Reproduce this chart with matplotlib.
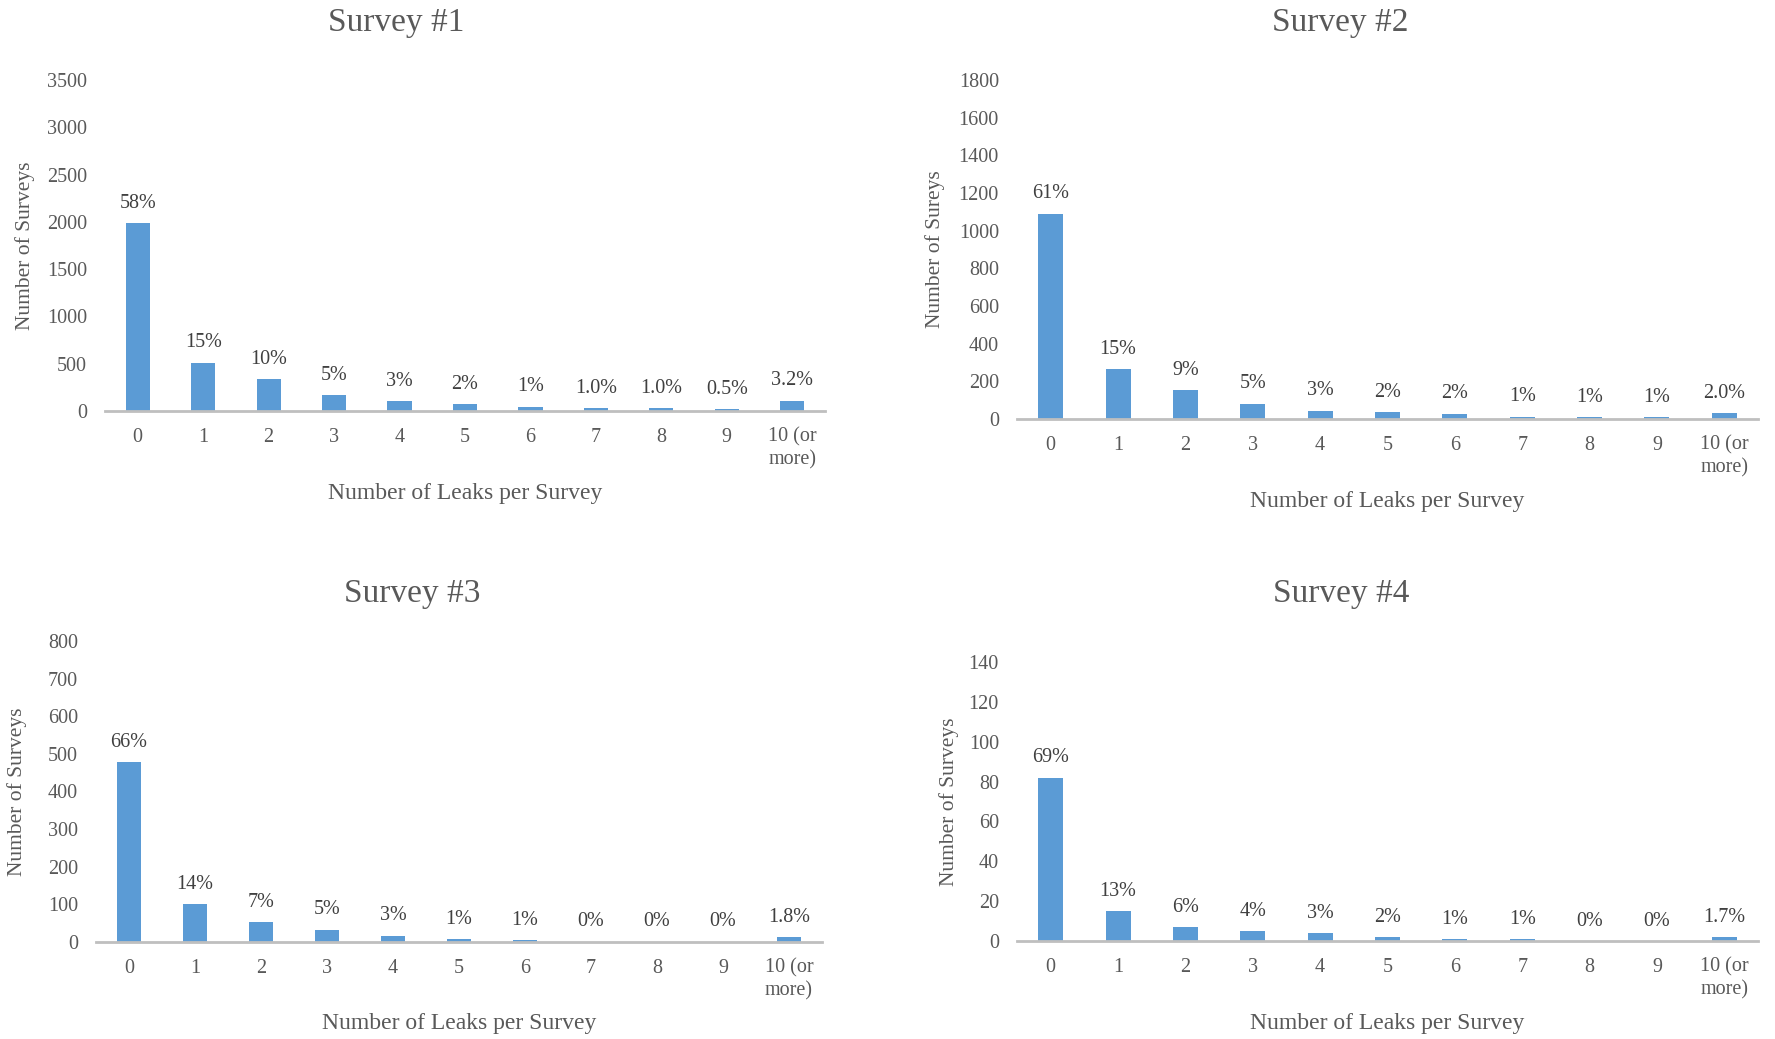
import numpy as np
import matplotlib
matplotlib.use("Agg")
import matplotlib.pyplot as plt

plt.rcParams['font.family'] = ['Liberation Serif', 'DejaVu Serif']

# data
leaks = ["0", "1", "2", "3", "4", "5", "6", "7", "8", "9", "10 (or\nmore)"]

survey1_counts = [1985, 510, 335, 165, 105, 70, 45, 33, 33, 18, 109]
survey1_pcts = ["58%", "15%", "10%", "5%", "3%", "2%", "1%", "1.0%", "1.0%", "0.5%", "3.2%"]

survey2_counts = [1090, 265, 155, 82, 45, 38, 28, 13, 8, 8, 33]
survey2_pcts = ["61%", "15%", "9%", "5%", "3%", "2%", "2%", "1%", "1%", "1%", "2.0%"]

survey3_counts = [478, 100, 52, 33, 17, 7, 4, 1, 1, 1, 12]
survey3_pcts = ["66%", "14%", "7%", "5%", "3%", "1%", "1%", "0%", "0%", "0%", "1.8%"]

survey4_counts = [82, 15, 7, 5, 4, 2, 1, 1, 0, 0, 2]
survey4_pcts = ["69%", "13%", "6%", "4%", "3%", "2%", "1%", "1%", "0%", "0%", "1.7%"]

BAR_COLOR = "#5B9BD5"
TEXT_COLOR = "#595959"
AXIS_COLOR = "#BFBFBF"

W, H = 1775, 1039


def draw_panel(rect, counts, pcts, ymax, ystep, ylabel, title, title_xy,
               ylabel_x, xlabel_y):
    ax = fig.add_axes(rect)
    x = np.arange(len(leaks))
    ax.bar(x, counts, width=0.37, color=BAR_COLOR, zorder=2)
    for xi, c, p in zip(x, counts, pcts):
        ax.annotate(p, (xi, c), xytext=(0, 11), textcoords="offset points",
                    ha="center", va="baseline", fontsize=14.5,
                    color="#404040")
    ax.set_xlim(-0.5, len(leaks) - 0.5)
    ax.set_ylim(0, ymax)
    ax.set_yticks(np.arange(0, ymax + 1, ystep))
    ax.set_xticks(x)
    ax.set_xticklabels(leaks)
    ax.tick_params(axis="both", length=0, labelsize=14.5,
                   labelcolor=TEXT_COLOR)
    ax.tick_params(axis="y", pad=13)
    ax.tick_params(axis="x", pad=12)
    for s in ["top", "right", "left"]:
        ax.spines[s].set_visible(False)
    ax.spines["bottom"].set_color(AXIS_COLOR)
    ax.spines["bottom"].set_linewidth(2)
    ax.spines["bottom"].set_zorder(3)
    ax.patch.set_alpha(0)

    # labels placed in figure pixels like the original layout
    cx = (rect[0] + rect[2] / 2)
    fig.text(cx, 1 - xlabel_y / H, "Number of Leaks per Survey",
             ha="center", va="center", fontsize=17, color=TEXT_COLOR)
    cy = rect[1] + rect[3] / 2
    fig.text(ylabel_x / W, cy, ylabel, rotation=90, ha="center",
             va="center", fontsize=15.5, color=TEXT_COLOR)
    fig.text(title_xy[0] / W, 1 - title_xy[1] / H, title, ha="center",
             va="center", fontsize=24, color=TEXT_COLOR)
    return ax


fig = plt.figure(figsize=(W / 100, H / 100), dpi=100)

draw_panel([105 / W, 1 - 411 / H, 720 / W, 331 / H],
           survey1_counts, survey1_pcts, 3500, 500,
           "Number of Surveys", "Survey #1", (396, 23), 25, 494)
draw_panel([1017 / W, 1 - 419 / H, 741 / W, 339 / H],
           survey2_counts, survey2_pcts, 1800, 200,
           "Number of Sureys", "Survey #2", (1340, 23), 935, 501)
draw_panel([96 / W, 1 - 942 / H, 726 / W, 301 / H],
           survey3_counts, survey3_pcts, 800, 100,
           "Number of Surveys", "Survey #3", (412, 594), 17, 1024)
draw_panel([1017 / W, 1 - 941 / H, 741 / W, 279 / H],
           survey4_counts, survey4_pcts, 140, 20,
           "Number of Surveys", "Survey #4", (1341, 594), 949, 1023)

plt.savefig("out.png", dpi=100)
